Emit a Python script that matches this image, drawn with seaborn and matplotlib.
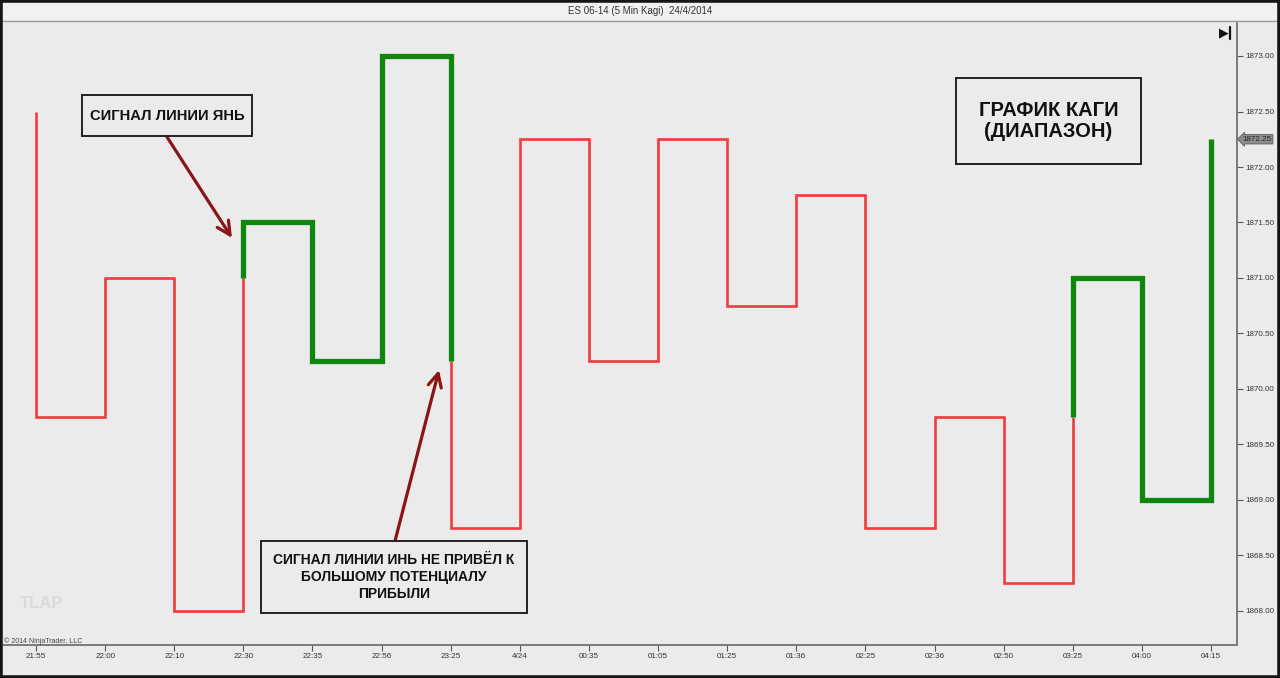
import numpy as np
import pandas as pd
import matplotlib
matplotlib.use("Agg")
import matplotlib.pyplot as plt
from matplotlib.patches import Rectangle
from matplotlib.lines import Line2D
import seaborn as sns

# ---------------- data ----------------
times = ["21:55", "22:00", "22:10", "22:30", "22:35", "22:56", "23:25", "4/24",
         "00:35", "01:05", "01:25", "01:36", "02:25", "02:36", "02:50", "03:25",
         "04:00", "04:15"]
kagi_levels = [1872.50, 1869.75, 1871.00, 1868.00, 1871.50, 1870.25, 1873.00,
               1868.75, 1872.25, 1870.25, 1872.25, 1870.75, 1871.75, 1868.75,
               1869.75, 1868.25, 1871.00, 1869.00, 1872.25]
y_ticks = [1868.0, 1868.5, 1869.0, 1869.5, 1870.0, 1870.5, 1871.0, 1871.5,
           1872.0, 1872.5, 1873.0]
last_price = 1872.25

title_text = "ES 06-14 (5 Min Kagi)  24/4/2014"
box_yang = "СИГНАЛ ЛИНИИ ЯНЬ"
box_yin = "СИГНАЛ ЛИНИИ ИНЬ НЕ ПРИВЁЛ К\nБОЛЬШОМУ ПОТЕНЦИАЛУ\nПРИБЫЛИ"
box_title = "ГРАФИК КАГИ\n(ДИАПАЗОН)"

# ---------------- kagi polylines ----------------
polylines = []  # list of (state, [(x,y),...])
state = "yin"
shoulder = kagi_levels[0]
waist = None
cur = [(0, kagi_levels[0])]


def switch(new_state, x, y):
    global cur, state
    polylines.append((state, cur))
    cur = [(x, y)]
    state = new_state


for i in range(len(times)):
    a, b = kagi_levels[i], kagi_levels[i + 1]
    if b > a:
        if state == "yin" and shoulder is not None and a < shoulder < b:
            cur.append((i, shoulder))
            switch("yang", i, shoulder)
        cur.append((i, b))
        shoulder = b
    else:
        if state == "yang" and waist is not None and b < waist < a:
            cur.append((i, waist))
            switch("yin", i, waist)
        cur.append((i, b))
        waist = b
    if i < len(times) - 1:
        cur.append((i + 1, b))
polylines.append((state, cur))

rows = []
for k, (st, pts) in enumerate(polylines):
    for j, (x, y) in enumerate(pts):
        rows.append({"seg": k, "order": j, "x": x, "y": y, "kind": st})
df = pd.DataFrame(rows)

# ---------------- figure ----------------
W, H = 1280, 678
sns.set_theme(style="white")
plt.rcParams["font.family"] = ["Liberation Sans", "DejaVu Sans"]

bg = "#ebebeb"
fig = plt.figure(figsize=(W / 100, H / 100), dpi=100, facecolor=bg)


def fx(px):
    return px / W


def fy(py):
    return 1 - py / H


ax_left, ax_right, ax_top, ax_bottom = 4, 1237, 22, 645
ax = fig.add_axes([fx(ax_left), fy(ax_bottom), fx(ax_right - ax_left),
                   (ax_bottom - ax_top) / H])
ax.set_facecolor(bg)

colors = {"yin": "#f03c3c", "yang": "#0f870f"}
widths = {"yin": 1.9, "yang": 3.8}
for kind in ["yin", "yang"]:
    sub = df[df["kind"] == kind]
    sns.lineplot(data=sub, x="x", y="y", units="seg", estimator=None, sort=False,
                 color=colors[kind], linewidth=widths[kind], ax=ax,
                 solid_joinstyle="miter", solid_capstyle="butt", legend=False)

# scales: pixel mapping 21:55 -> x=36, spacing ~69.12 px ; 1873 -> y=56, 111 px/pt
step = (1211 - 36) / 17
ax.set_xlim((ax_left - 36) / step, (ax_right - 36) / step)
ppp = 111.0
ax.set_ylim(1868.0 - (ax_bottom - 611) / ppp, 1873.0 + (56 - ax_top) / ppp)

ax.set_xticks(range(len(times)))
ax.set_xticklabels(times)
ax.set_yticks(y_ticks)
ax.set_yticklabels([f"{v:.2f}" for v in y_ticks])
ax.yaxis.tick_right()
ax.set_xlabel("")
ax.set_ylabel("")
for sp in ["left", "top"]:
    ax.spines[sp].set_visible(False)
for sp in ["right", "bottom"]:
    ax.spines[sp].set_color("#7a7a7a")
    ax.spines[sp].set_linewidth(1.4)
ax.tick_params(axis="both", which="major", length=4, width=0.8, color="#555555",
               labelsize=5.8, labelcolor="#333333", direction="out", pad=2)
ax.tick_params(axis="x", bottom=True)
ax.tick_params(axis="y", right=True, left=False)

# last price tag
ax.annotate(f"{last_price:.2f}", xy=(1, last_price), xycoords=("axes fraction", "data"),
            xytext=(4, 0), textcoords="offset points", ha="left", va="center",
            fontsize=5.8, color="#222222", annotation_clip=False,
            bbox=dict(boxstyle="larrow,pad=0.15", facecolor="#8e8e8e",
                      edgecolor="#5a5a5a", linewidth=0.6))

# title bar
fig.patches.append(Rectangle((0, fy(20)), 1, 20 / H, transform=fig.transFigure,
                             facecolor="#f1f1f1", edgecolor="none", zorder=0))
fig.add_artist(Line2D([0, 1], [fy(20.5), fy(20.5)], transform=fig.transFigure,
                      color="#9a9a9a", linewidth=1.0))
fig.text(fx(640), fy(11), title_text, ha="center", va="center", fontsize=7,
         color="#333333")

# play / end marker
fig.text(fx(1224), fy(33), "▶", ha="center", va="center", fontsize=9,
         color="#111111", family=["DejaVu Sans"])
fig.add_artist(Line2D([fx(1230), fx(1230)], [fy(27), fy(39)], transform=fig.transFigure,
                      color="#111111", linewidth=1.6))

# copyright & watermark
fig.text(fx(4), fy(641), "© 2014 NinjaTrader, LLC", ha="left", va="center",
         fontsize=5, color="#444444")
fig.text(fx(20), fy(603), "TLAP", ha="left", va="center", fontsize=12,
         fontweight="bold", color="#dadada")


# annotation boxes
def box(x0, y0, x1, y1, text, size, linespacing=1.2):
    fig.patches.append(Rectangle((fx(x0), fy(y1)), fx(x1 - x0), (y1 - y0) / H,
                                 transform=fig.transFigure, facecolor=bg,
                                 edgecolor="#222222", linewidth=1.4, zorder=5))
    fig.text(fx((x0 + x1) / 2), fy((y0 + y1) / 2), text, ha="center", va="center",
             fontsize=size, fontweight="bold", color="#111111",
             linespacing=linespacing, zorder=6)


box(82, 95, 252, 136, box_yang, 10.6)
box(261, 541, 527, 613, box_yin, 10, 1.3)
box(956, 78, 1141, 164, box_title, 14.5, 1.15)

arrow_kw = dict(arrowstyle="->,head_length=0.8,head_width=0.4", color="#8b1414",
                lw=2.3, shrinkA=0, shrinkB=0)
ax.annotate("", xy=((232 - 36) / step, 1873 - (238 - 56) / ppp), xycoords="data",
            xytext=(fx(167), fy(137)), textcoords="figure fraction",
            arrowprops=arrow_kw, annotation_clip=False)
ax.annotate("", xy=((439 - 36) / step, 1873 - (370 - 56) / ppp), xycoords="data",
            xytext=(fx(395), fy(541)), textcoords="figure fraction",
            arrowprops=arrow_kw, annotation_clip=False)

# outer dark frame
fig.patches.append(Rectangle((0, 0), 1, 1, transform=fig.transFigure, fill=False,
                             edgecolor="#151515", linewidth=4, zorder=10))

fig.savefig("out.png", dpi=100, facecolor=bg)
